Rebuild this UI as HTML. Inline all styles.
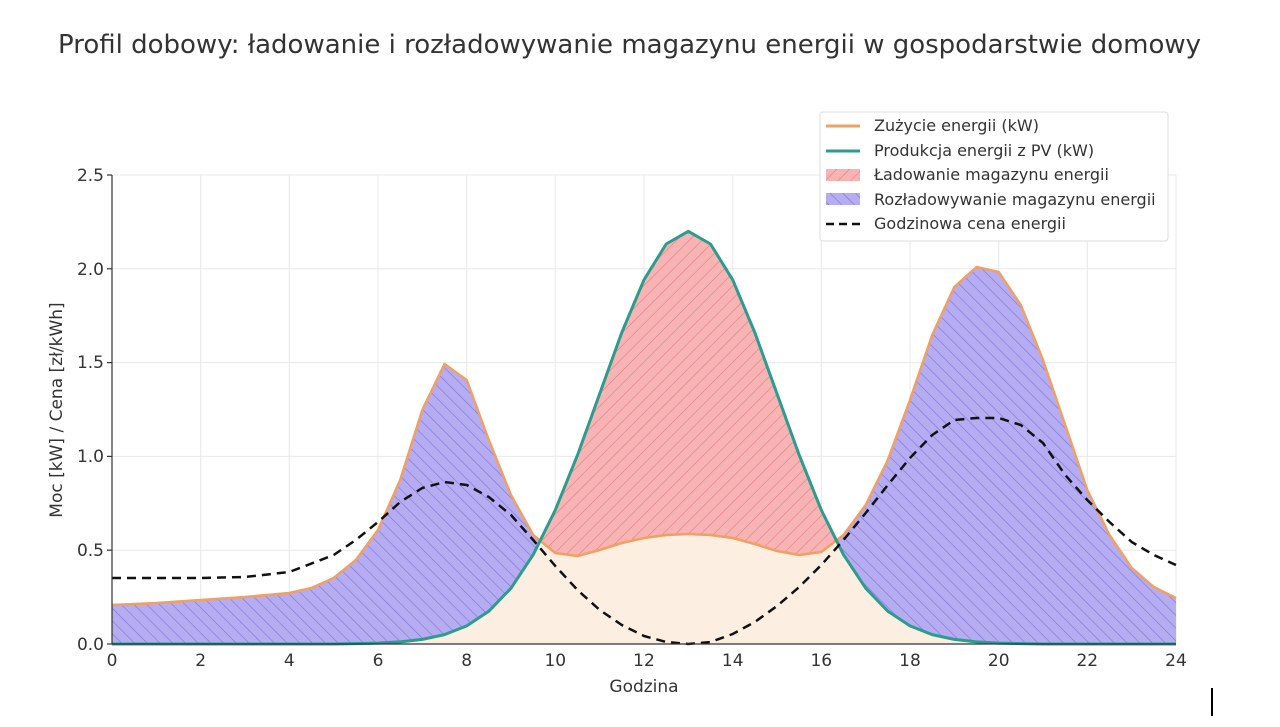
<!DOCTYPE html><html><head><meta charset="utf-8"><style>body{margin:0;background:#fff}svg{display:block;font-family:"DejaVu Sans","Liberation Sans",sans-serif}</style></head><body>
<svg width="1280" height="727" viewBox="0 0 1280 727">
<defs>
<pattern id="hr" patternUnits="userSpaceOnUse" width="9" height="9" patternTransform="rotate(45)"><rect width="9" height="9" fill="#f8b4b4"/><line x1="0" y1="0" x2="0" y2="9" stroke="#e07c7c" stroke-width="1.2"/></pattern>
<pattern id="hb" patternUnits="userSpaceOnUse" width="9" height="9" patternTransform="rotate(-45)"><rect width="9" height="9" fill="#b5acf2"/><line x1="0" y1="0" x2="0" y2="9" stroke="#7f74d6" stroke-width="1.2"/></pattern>
</defs>
<text x="58" y="53" font-size="26" fill="#333">Profil dobowy: ładowanie i rozładowywanie magazynu energii w gospodarstwie domowy</text>
<g stroke="#e8e8e8" stroke-width="1">
<line x1="200.7" x2="200.7" y1="175" y2="644"/><line x1="289.3" x2="289.3" y1="175" y2="644"/><line x1="378" x2="378" y1="175" y2="644"/><line x1="466.7" x2="466.7" y1="175" y2="644"/><line x1="555.3" x2="555.3" y1="175" y2="644"/><line x1="644" x2="644" y1="175" y2="644"/><line x1="732.7" x2="732.7" y1="175" y2="644"/><line x1="821.3" x2="821.3" y1="175" y2="644"/><line x1="910" x2="910" y1="175" y2="644"/><line x1="998.7" x2="998.7" y1="175" y2="644"/><line x1="1087.3" x2="1087.3" y1="175" y2="644"/><line x1="1176" x2="1176" y1="175" y2="644"/>
<line x1="112" x2="1176" y1="550.2" y2="550.2"/><line x1="112" x2="1176" y1="456.4" y2="456.4"/><line x1="112" x2="1176" y1="362.6" y2="362.6"/><line x1="112" x2="1176" y1="268.8" y2="268.8"/><line x1="112" x2="1176" y1="175" y2="175"/>
</g>
<path fill="#fcefe2" d="M112,644 L333.7,644 355.8,643.6 378,643.1 400.2,641.9 422.3,639.4 444.5,634.6 466.7,625.9 488.8,611.2 511,588.2 533.2,554.7 540,541 555.3,553 577.5,556 599.7,550 621.8,543 644,538 666.2,535 688.3,534 710.5,535 732.7,538 754.8,544 777,551 799.2,555 821.3,552 836,540 843.5,554.7 865.7,588.2 887.8,611.2 910,625.9 932.2,634.6 954.3,639.4 976.5,641.9 998.7,643.1 1020.8,643.6 1043,644 1176,644 Z"/>
<path fill="url(#hb)" d="M112,644 L112,605 156.3,603 200.7,600 245,597 289.3,593 311.5,588 333.7,578 355.8,560 378,530 400.2,480 422.3,410 444.5,364 466.7,380 488.8,440 511,495 533.2,535 540,541 533.2,554.7 511,588.2 488.8,611.2 466.7,625.9 444.5,634.6 422.3,639.4 400.2,641.9 378,643.1 355.8,643.6 333.7,644 Z"/>
<path fill="url(#hr)" d="M540,541 L555.3,510 577.5,455.1 599.7,393.7 621.8,332.5 644,279.8 666.2,244 688.3,231.3 710.5,244 732.7,279.8 754.8,332.5 777,393.7 799.2,455.1 821.3,510 836,540 821.3,552 799.2,555 777,551 754.8,544 732.7,538 710.5,535 688.3,534 666.2,535 644,538 621.8,543 599.7,550 577.5,556 555.3,553 Z"/>
<path fill="url(#hb)" d="M836,540 L843.5,535 865.7,505 887.8,460 910,400 932.2,335 954.3,287 976.5,267 998.7,272 1020.8,305 1043,360 1065.2,425 1087.3,490 1109.5,535 1131.7,568 1153.8,587 1176,598 1176,644 1043,644 1020.8,643.6 998.7,643.1 976.5,641.9 954.3,639.4 932.2,634.6 910,625.9 887.8,611.2 865.7,588.2 843.5,554.7 Z"/>
<polyline fill="none" stroke="#f0a060" stroke-width="2.5" stroke-linejoin="round" points="112,605 156.3,603 200.7,600 245,597 289.3,593 311.5,588 333.7,578 355.8,560 378,530 400.2,480 422.3,410 444.5,364 466.7,380 488.8,440 511,495 533.2,535 555.3,553 577.5,556 599.7,550 621.8,543 644,538 666.2,535 688.3,534 710.5,535 732.7,538 754.8,544 777,551 799.2,555 821.3,552 843.5,535 865.7,505 887.8,460 910,400 932.2,335 954.3,287 976.5,267 998.7,272 1020.8,305 1043,360 1065.2,425 1087.3,490 1109.5,535 1131.7,568 1153.8,587 1176,598"/>
<polyline fill="none" stroke="#2a9d8f" stroke-width="3" stroke-linejoin="round" points="112,644 333.7,644 355.8,643.6 378,643.1 400.2,641.9 422.3,639.4 444.5,634.6 466.7,625.9 488.8,611.2 511,588.2 533.2,554.7 555.3,510 577.5,455.1 599.7,393.7 621.8,332.5 644,279.8 666.2,244 688.3,231.3 710.5,244 732.7,279.8 754.8,332.5 777,393.7 799.2,455.1 821.3,510 843.5,554.7 865.7,588.2 887.8,611.2 910,625.9 932.2,634.6 954.3,639.4 976.5,641.9 998.7,643.1 1020.8,643.6 1043,644 1176,644"/>
<polyline fill="none" stroke="#111" stroke-width="2.5" stroke-dasharray="9,6" stroke-linejoin="round" points="112,578 200.7,578 245,577 289.3,572 333.7,555 355.8,540 378,522 400.2,502 422.3,488 444.5,482 466.7,485 488.8,497 511,515 533.2,540 555.3,566 577.5,590 599.7,610 621.8,625 644,636 666.2,642 688.3,644 710.5,642 732.7,634 754.8,622 777,606 799.2,587 821.3,565 843.5,540 865.7,513 887.8,485 910,458 932.2,435 954.3,420 976.5,418 998.7,418 1020.8,425 1043,443 1065.2,475 1087.3,500 1109.5,522 1131.7,542 1153.8,555 1176,565"/>
<g stroke="#333" stroke-width="1.2">
<line x1="112" x2="112" y1="175" y2="644"/><line x1="112" x2="1176" y1="644" y2="644"/>
<line x1="107" x2="112" y1="644" y2="644"/><line x1="107" x2="112" y1="550.2" y2="550.2"/><line x1="107" x2="112" y1="456.4" y2="456.4"/><line x1="107" x2="112" y1="362.6" y2="362.6"/><line x1="107" x2="112" y1="268.8" y2="268.8"/><line x1="107" x2="112" y1="175" y2="175"/>
</g>
<g font-size="17" fill="#333" text-anchor="end">
<text x="104" y="650">0.0</text><text x="104" y="556">0.5</text><text x="104" y="462">1.0</text><text x="104" y="368">1.5</text><text x="104" y="275">2.0</text><text x="104" y="181">2.5</text>
</g>
<g font-size="17" fill="#333" text-anchor="middle">
<text x="112" y="666">0</text><text x="200.7" y="666">2</text><text x="289.3" y="666">4</text><text x="378" y="666">6</text><text x="466.7" y="666">8</text><text x="555.3" y="666">10</text><text x="644" y="666">12</text><text x="732.7" y="666">14</text><text x="821.3" y="666">16</text><text x="910" y="666">18</text><text x="998.7" y="666">20</text><text x="1087.3" y="666">22</text><text x="1176" y="666">24</text>
<text x="644" y="692">Godzina</text>
<text transform="translate(62,410) rotate(-90)">Moc [kW] / Cena [zł/kWh]</text>
</g>
<g font-size="16" fill="#333">
<rect x="820" y="112" width="348" height="129" fill="#fff" stroke="#ddd" rx="3"/>
<line x1="826" y1="126" x2="860" y2="126" stroke="#f0a060" stroke-width="3"/><text x="874" y="131">Zużycie energii (kW)</text>
<line x1="826" y1="151" x2="860" y2="151" stroke="#2a9d8f" stroke-width="3"/><text x="874" y="156">Produkcja energii z PV (kW)</text>
<rect x="826" y="169" width="34" height="12" fill="url(#hr)"/><text x="874" y="180">Ładowanie magazynu energii</text>
<rect x="826" y="193" width="34" height="12" fill="url(#hb)"/><text x="874" y="205">Rozładowywanie magazynu energii</text>
<line x1="826" y1="224" x2="860" y2="224" stroke="#111" stroke-width="2.5" stroke-dasharray="8,5"/><text x="874" y="229">Godzinowa cena energii</text>
</g>
<line x1="1212" y1="688" x2="1212" y2="716" stroke="#000" stroke-width="2"/>
</svg>
</body></html>
